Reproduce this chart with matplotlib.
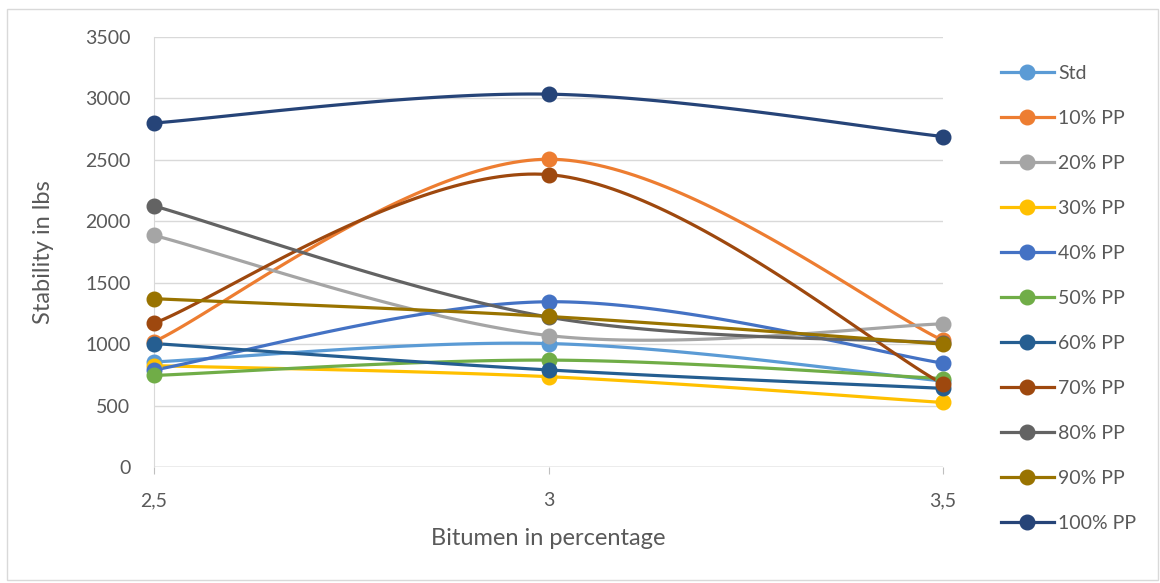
import numpy as np
import matplotlib.pyplot as plt
from matplotlib.patches import Rectangle

plt.rcParams['font.family'] = ['Lato', 'DejaVu Sans']

bitumen = [2.5, 3.0, 3.5]
labels = ['Std', '10% PP', '20% PP', '30% PP', '40% PP', '50% PP',
          '60% PP', '70% PP', '80% PP', '90% PP', '100% PP']
std = [855, 1005, 700]
pp10 = [1020, 2505, 1030]
pp20 = [1885, 1070, 1165]
pp30 = [825, 735, 525]
pp40 = [790, 1345, 845]
pp50 = [745, 870, 720]
pp60 = [1005, 790, 640]
pp70 = [1170, 2380, 675]
pp80 = [2125, 1220, 1010]
pp90 = [1370, 1225, 1000]
pp100 = [2800, 3035, 2690]
series = [std, pp10, pp20, pp30, pp40, pp50, pp60, pp70, pp80, pp90, pp100]
colors = ['#5B9BD5', '#ED7D31', '#A5A5A5', '#FFC000', '#4472C4', '#70AD47',
          '#255E91', '#9E480E', '#636363', '#997300', '#264478']


def smooth(x, y, n=60):
    # excel-like smoothed line: cubic bezier with catmull-rom control points
    x = np.asarray(x, float)
    y = np.asarray(y, float)
    px = np.concatenate([[x[0]], x, [x[-1]]])
    py = np.concatenate([[y[0]], y, [y[-1]]])
    xs, ys = [], []
    t = np.linspace(0, 1, n)
    for i in range(1, len(x)):
        p0 = np.array([px[i], py[i]])
        p3 = np.array([px[i + 1], py[i + 1]])
        c1 = p0 + (p3 - np.array([px[i - 1], py[i - 1]])) / 6
        c2 = p3 - (np.array([px[i + 2], py[i + 2]]) - p0) / 6
        b = (np.outer((1 - t) ** 3, p0) + np.outer(3 * (1 - t) ** 2 * t, c1)
             + np.outer(3 * (1 - t) * t ** 2, c2) + np.outer(t ** 3, p3))
        xs.append(b[:, 0])
        ys.append(b[:, 1])
    return np.concatenate(xs), np.concatenate(ys)


fig = plt.figure(figsize=(11.6, 5.83), dpi=100)
ax = fig.add_axes([0.1328, 0.199, 0.6802, 0.7375])

for vals, lab, c in zip(series, labels, colors):
    sx, sy = smooth(bitumen, vals)
    ax.plot(sx, sy, color=c, lw=2.3, solid_capstyle='round', zorder=3)
    ax.plot(bitumen, vals, 'o', color=c, ms=10.5, zorder=4, clip_on=False)
    ax.plot([], [], '-o', color=c, lw=2.3, ms=10.5, label=lab)

ax.set_xlim(2.5, 3.5)
ax.set_ylim(0, 3500)
ax.set_yticks(np.arange(0, 3501, 500))
ax.set_xticks(bitumen)
ax.set_xticklabels(['2,5', '3', '3,5'])
ax.grid(axis='y', color='#D9D9D9', lw=1)
ax.set_axisbelow(True)
for s in ['top', 'right', 'bottom']:
    ax.spines[s].set_visible(False)
ax.spines['left'].set_color('#D9D9D9')
ax.axhline(0, color='#BFBFBF', lw=1, zorder=2)
ax.tick_params(axis='y', length=0, labelsize=14, labelcolor='#595959', pad=17)
ax.tick_params(axis='x', length=5, color='#BFBFBF', labelsize=14,
               labelcolor='#595959', pad=13)
ax.set_ylabel('Stability in lbs', fontsize=17, color='#595959', labelpad=22)
ax.set_xlabel('Bitumen in percentage', fontsize=17, color='#595959', labelpad=14)

ax.legend(loc='upper left', bbox_to_anchor=(0.8546, 0.906),
          bbox_transform=fig.transFigure, frameon=False, fontsize=14,
          labelcolor='#595959', handlelength=2.7, labelspacing=1.44,
          handletextpad=0.25, borderpad=0)

fig.patches.append(Rectangle((0.006, 0.005), 0.992, 0.98, transform=fig.transFigure,
                             fill=False, edgecolor='#D9D9D9', lw=1))

fig.savefig('out.png', dpi=100)
